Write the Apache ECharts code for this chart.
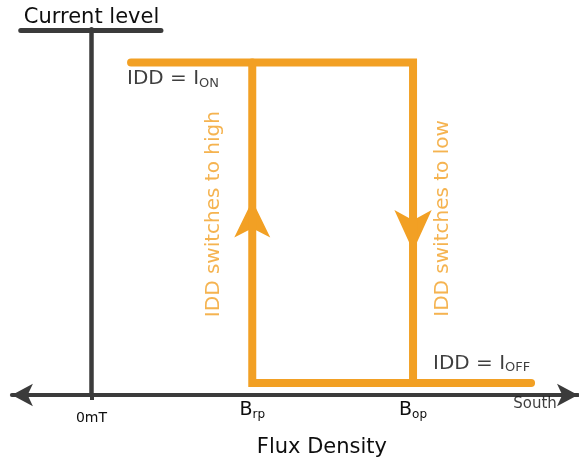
<!DOCTYPE html>
<html><head><meta charset="utf-8">
<script src="https://cdn.jsdelivr.net/npm/echarts@6/dist/echarts.min.js"></script>
<style>html,body{margin:0;padding:0;background:#fff}#c{width:579px;height:465px}</style>
</head><body><div id="c"></div>
<script>
// Flux density axis (schematic units: 0 mT, B_rp, B_op)
const fieldTickValues = [0, 1, 2];
const fieldTickNames = ['0mT', 'B_rp', 'B_op'];
// Key field values of the hysteresis loop
const fieldSweepStart = 0.246;
const fieldRp = 1;
const fieldOp = 2;
const fieldSweepEnd = 2.734;
// Current levels
const currentOn = 1;
const currentOff = 0.036;
// Direction arrows (tip position) [field, level]
const arrowUp = [1, 0.585];
const arrowDown = [2, 0.433];
// Text annotations
const annotationTexts = ['IDD switches to high', 'IDD switches to low'];
const annotationAt = [[0.762, 0.544], [2.187, 0.531]];
const levelLabelOnAt = [0.221, 0.950];
const levelLabelOffAt = [2.124, 0.095];
const southAt = [2.759, -0.028];

const ORANGE = '#F2A024';
const DARK = '#3b3b3b';
const TEXT = '#0e0e0e';
const FONT = 'DejaVu Sans';

const chart = echarts.init(document.getElementById('c'), null, {renderer: 'canvas'});

function tickFormatter(v) {
  const i = fieldTickValues.indexOf(v);
  if (i < 0) return '';
  const name = fieldTickNames[i];
  if (name.indexOf('_') >= 0) {
    const p = name.split('_');
    return '{b|' + p[0] + '}{s|' + p[1] + '}';
  }
  return '{t|' + name + '}';
}

const option = {
  animation: false,
  backgroundColor: '#fff',
  grid: {left: 11.9, right: 1, top: 29.25, bottom: 70, outerBoundsMode: 'none', containLabel: false},
  xAxis: {
    type: 'value', min: -0.495, max: 3.026,
    splitLine: {show: false},
    axisLine: {show: true, onZero: true, symbol: ['arrow', 'arrow'], symbolSize: [17, 21],
      lineStyle: {color: DARK, width: 4}},
    axisTick: {show: true, customValues: [0], length: 5, lineStyle: {color: DARK, width: 4}},
    axisLabel: {
      show: true, customValues: fieldTickValues, margin: 5, formatter: tickFormatter,
      color: TEXT, fontFamily: FONT,
      rich: {
        t: {fontSize: 14, fontFamily: FONT, color: TEXT, padding: [11, 0, 0, 0]},
        b: {fontSize: 19, fontFamily: FONT, color: TEXT},
        s: {fontSize: 12, fontFamily: FONT, color: TEXT, padding: [9, 0, 0, 0]}
      }
    },
    name: 'Flux Density', nameLocation: 'middle', nameGap: 42,
    nameTextStyle: {fontSize: 21, fontFamily: FONT, color: TEXT, padding: [0, 0, 0, 54]}
  },
  yAxis: {
    type: 'value', min: 0, max: 1.1,
    splitLine: {show: false},
    axisLine: {show: true, onZero: true, lineStyle: {color: DARK, width: 4.5}},
    axisTick: {show: false},
    axisLabel: {show: false},
    name: 'Current level', nameLocation: 'end', nameGap: 1,
    nameTextStyle: {fontSize: 21, fontFamily: FONT, color: TEXT, align: 'center'}
  },
  series: [
    { // underline of the vertical axis title
      type: 'line', clip: false, symbol: 'none', silent: true,
      data: [[-0.44, 1.096], [0.432, 1.096]],
      lineStyle: {color: DARK, width: 5, cap: 'round'}
    },
    { // switching to low (upper branch then down at B_op)
      type: 'line', clip: false, symbol: 'none',
      data: [[fieldSweepStart, currentOn], [fieldOp, currentOn], [fieldOp, currentOff]],
      lineStyle: {color: ORANGE, width: 8, cap: 'round', join: 'miter'}
    },
    { // switching to high (lower branch then up at B_rp)
      type: 'line', clip: false, symbol: 'none',
      data: [[fieldSweepEnd, currentOff], [fieldRp, currentOff], [fieldRp, currentOn]],
      lineStyle: {color: ORANGE, width: 8, cap: 'round', join: 'miter'}
    },
    { // direction arrows
      type: 'scatter', symbol: 'arrow', clip: false,
      itemStyle: {color: ORANGE, opacity: 1},
      data: [
        {value: arrowUp, symbolRotate: 0, symbolSize: [27, 37]},
        {value: arrowDown, symbolRotate: 180, symbolSize: [28, 41]}
      ]
    },
    { // text annotations
      type: 'scatter', symbolSize: 0, silent: true, clip: false,
      label: {show: true, fontFamily: FONT},
      data: [
        {value: annotationAt[0], label: {position: 'inside', rotate: 90, formatter: annotationTexts[0], fontSize: 20, color: ORANGE}},
        {value: annotationAt[1], label: {position: 'inside', rotate: 90, formatter: annotationTexts[1], fontSize: 20, color: ORANGE}},
        {value: levelLabelOnAt, label: {position: 'right', distance: 0, formatter: '{a|IDD = I}{s|ON}',
          rich: {a: {fontSize: 20, fontFamily: FONT, color: TEXT}, s: {fontSize: 13, fontFamily: FONT, color: TEXT, padding: [8, 0, 0, 0]}}}},
        {value: levelLabelOffAt, label: {position: 'right', distance: 0, formatter: '{a|IDD = I}{s|OFF}',
          rich: {a: {fontSize: 20, fontFamily: FONT, color: TEXT}, s: {fontSize: 13, fontFamily: FONT, color: TEXT, padding: [8, 0, 0, 0]}}}},
        {value: southAt, label: {position: 'inside', formatter: 'South', fontSize: 15, color: TEXT}}
      ]
    }
  ]
};
chart.setOption(option);
</script>
</body></html>
